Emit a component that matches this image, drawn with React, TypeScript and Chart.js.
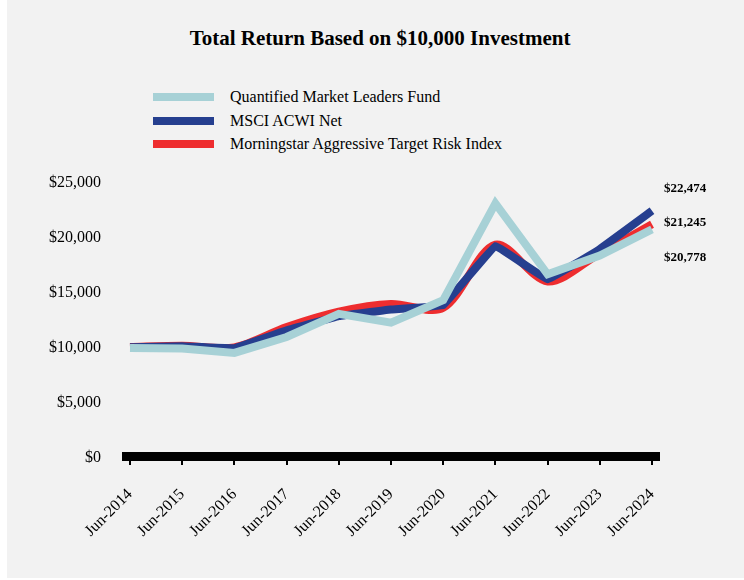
import React, { useEffect, useRef } from "react";
import { Chart, registerables } from "chart.js";

Chart.register(...registerables);

const categories = [
  "Jun-2014", "Jun-2015", "Jun-2016", "Jun-2017", "Jun-2018", "Jun-2019",
  "Jun-2020", "Jun-2021", "Jun-2022", "Jun-2023", "Jun-2024",
];
const fundValues = [10000, 9950, 9550, 11000, 13100, 12300, 14350, 23150, 16700, 18400, 20778];
const msciValues = [10060, 10150, 9980, 11600, 12900, 13500, 13900, 19250, 16250, 19000, 22474];
const morningstarValues = [10080, 10200, 10060, 11900, 13300, 14000, 13650, 19400, 16050, 18600, 21245];
const seriesNames = ["Quantified Market Leaders Fund", "MSCI ACWI Net", "Morningstar Aggressive Target Risk Index"];
const seriesColors = ["#A7D1D6", "#263F8F", "#EE2D2F"];
const endLabels = ["$22,474", "$21,245", "$20,778"];
const yTickValues = [0, 5000, 10000, 15000, 20000, 25000];

const FONT = "'Liberation Serif', 'Times New Roman', serif";

export default function App() {
  const canvasRef = useRef<HTMLCanvasElement | null>(null);

  useEffect(() => {
    document.body.style.margin = "0";
    const canvas = canvasRef.current;
    if (!canvas) return;

    const axisBar = {
      id: "axisBar",
      beforeDatasetsDraw(chart: any) {
        const { ctx, chartArea } = chart;
        ctx.save();
        ctx.fillStyle = "#000";
        ctx.fillRect(chartArea.left - 8, chartArea.bottom - 6, chartArea.right - chartArea.left + 16, 9);
        ctx.restore();
      },
    };

    const endLabelPlugin = {
      id: "endLabels",
      afterDraw(chart: any) {
        const { ctx, chartArea } = chart;
        ctx.save();
        ctx.font = `bold 13px ${FONT}`;
        ctx.fillStyle = "#000";
        ctx.textAlign = "left";
        ctx.textBaseline = "middle";
        const offsets = [6, 40, 75];
        endLabels.forEach((t, i) => {
          ctx.fillText(t, chartArea.right + 12, chartArea.top + offsets[i]);
        });
        ctx.restore();
      },
    };

    const chart = new Chart(canvas, {
      type: "line",
      data: {
        labels: categories,
        datasets: [
          {
            label: seriesNames[0],
            data: fundValues,
            borderColor: seriesColors[0],
            backgroundColor: seriesColors[0],
            borderWidth: 8,
            pointRadius: 0,
            tension: 0,
            borderJoinStyle: "miter",
          },
          {
            label: seriesNames[1],
            data: msciValues,
            borderColor: seriesColors[1],
            backgroundColor: seriesColors[1],
            borderWidth: 8,
            pointRadius: 0,
            tension: 0.05,
          },
          {
            label: seriesNames[2],
            data: morningstarValues,
            borderColor: seriesColors[2],
            backgroundColor: seriesColors[2],
            borderWidth: 8,
            pointRadius: 0,
            tension: 0.3,
          },
        ],
      },
      options: {
        animation: false,
        responsive: false,
        maintainAspectRatio: false,
        layout: { padding: { left: 0, right: 92, top: 183, bottom: 0 } },
        plugins: {
          legend: { display: false },
          title: { display: false },
          tooltip: { enabled: false },
        },
        scales: {
          x: {
            type: "category",
            offset: false,
            border: { display: false },
            grid: {
              display: true,
              drawOnChartArea: false,
              drawTicks: true,
              tickLength: 7,
              color: "#000",
              lineWidth: 2,
            },
            ticks: {
              autoSkip: false,
              minRotation: 45,
              maxRotation: 45,
              padding: 20,
              color: "#000",
              font: { family: FONT, size: 16 },
            },
            afterFit(scale: any) {
              scale.height = 120;
            },
          },
          y: {
            min: 0,
            max: 25000,
            border: { display: false },
            grid: { display: false, drawTicks: false },
            afterBuildTicks(scale: any) {
              scale.ticks = yTickValues.map((v) => ({ value: v }));
            },
            ticks: {
              padding: 29,
              color: "#000",
              font: { family: FONT, size: 16 },
              callback: (v: any) => "$" + Number(v).toLocaleString("en-US"),
            },
            afterFit(scale: any) {
              scale.width = 123;
            },
          },
        },
      },
      plugins: [axisBar, endLabelPlugin],
    });

    return () => chart.destroy();
  }, []);

  const legendTops = [97, 121, 144];

  return (
    <div style={{ position: "relative", width: 744, height: 580, background: "#fff", overflow: "hidden" }}>
      <div style={{ position: "absolute", left: 7, top: 0, width: 737, height: 578, background: "#F2F2F2" }}>
        <div
          style={{
            position: "absolute",
            left: 0,
            width: 746,
            top: 26,
            textAlign: "center",
            fontFamily: FONT,
            fontWeight: "bold",
            fontSize: 21,
            lineHeight: "24px",
            color: "#000",
            whiteSpace: "nowrap",
          }}
        >
          Total Return Based on $10,000 Investment
        </div>
        {seriesNames.map((name, i) => (
          <div key={name}>
            <div
              style={{
                position: "absolute",
                left: 146,
                top: legendTops[i] - 4,
                width: 61,
                height: 8,
                background: seriesColors[i],
              }}
            />
            <div
              style={{
                position: "absolute",
                left: 223,
                top: legendTops[i] - 10,
                height: 20,
                lineHeight: "20px",
                fontFamily: FONT,
                fontSize: 16,
                color: "#000",
                whiteSpace: "nowrap",
              }}
            >
              {name}
            </div>
          </div>
        ))}
        <canvas
          ref={canvasRef}
          width={737}
          height={578}
          style={{ position: "absolute", left: 0, top: 0, width: 737, height: 578 }}
        />
      </div>
    </div>
  );
}
